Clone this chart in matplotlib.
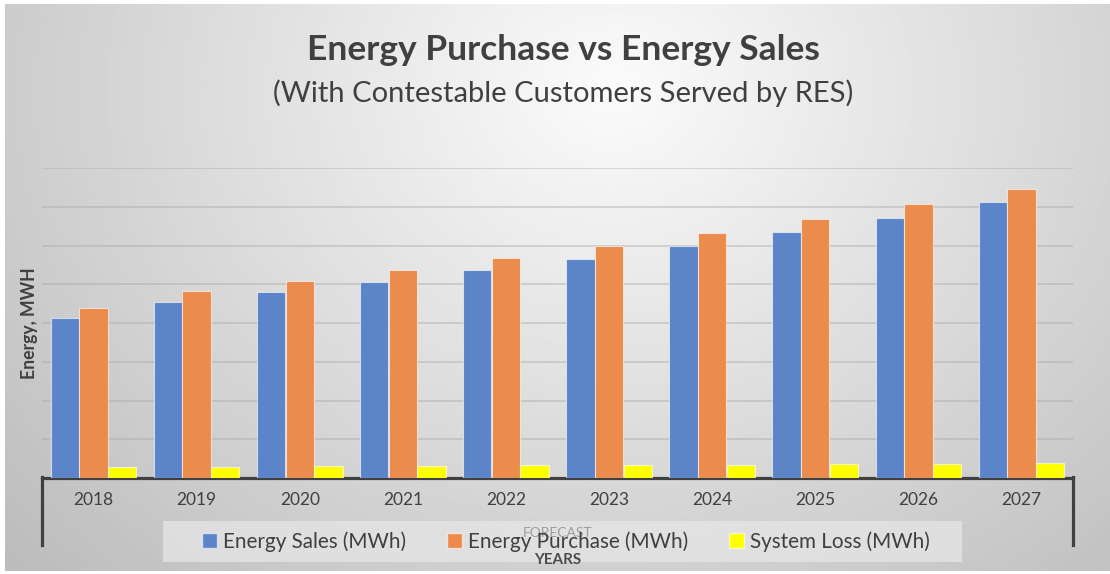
import numpy as np
import matplotlib.pyplot as plt
from matplotlib.patches import Rectangle, Patch
from matplotlib.lines import Line2D

plt.rcParams['font.family'] = ['Lato', 'DejaVu Sans']

# data (MWh; gridline step assumed 100,000)
years = ['2018', '2019', '2020', '2021', '2022', '2023', '2024', '2025', '2026', '2027']
energy_sales = [412900, 455000, 480000, 507400, 536800, 566700, 598700, 635600, 671700, 712300]
energy_purchase = [440300, 483400, 509200, 537500, 567700, 598700, 633000, 668400, 707900, 747400]
system_loss = [28400, 29000, 30000, 31000, 32500, 33500, 34300, 35100, 36900, 37700]

series_labels = ['Energy Sales (MWh)', 'Energy Purchase (MWh)', 'System Loss (MWh)']
series_colors = ['#5b84c9', '#eb8b4c', '#ffff00']

W, H = 1110, 574
TXT = '#404040'


def px(x, y):
    # pixel position -> figure fraction
    return x / W, 1 - y / H


fig = plt.figure(figsize=(W / 100, H / 100), dpi=100)

# background gradient
bg = fig.add_axes([0, 0, 1, 1], zorder=-10)
gx, gy = np.meshgrid(np.linspace(0, 1, 400), np.linspace(0, 1, 220))
d = np.sqrt(((gx - 0.55) / 0.6) ** 2 + ((gy - 0.15) / 1.0) ** 2)
shade = np.clip(0.985 - 0.2 * d, 0, 1)
bg.imshow(shade, cmap='gray', vmin=0, vmax=1, aspect='auto',
          extent=(5 / W, 1, 1 - 571 / H, 1 - 4 / H), interpolation='bilinear')
bg.set_xlim(0, 1)
bg.set_ylim(0, 1)
bg.axis('off')

# main axes
x0, x1 = 42, 1073
ytop, ybase = 168.3, 478
ax = fig.add_axes([x0 / W, 1 - ybase / H, (x1 - x0) / W, (ybase - ytop) / H])
ax.patch.set_alpha(0)

x = np.arange(len(years))
bw = 0.275
off = 0.278
for k, (vals, col) in enumerate(zip([energy_sales, energy_purchase, system_loss], series_colors)):
    ax.bar(x + (k - 1) * off, vals, width=bw, color=col,
           edgecolor=(1, 1, 1, 0.6), linewidth=0.8, zorder=3)

ax.set_xlim(-0.5, len(years) - 0.5)
ax.set_ylim(0, 800000)
ax.set_yticks(np.arange(100000, 800001, 100000))
ax.set_yticklabels([])
ax.yaxis.grid(True, color='#a8a8a8', alpha=0.45, linewidth=1.3)
ax.set_axisbelow(True)
ax.tick_params(axis='y', length=0)
ax.set_xticks(x)
ax.set_xticklabels(years, fontsize=12.5, color=TXT)
ax.tick_params(axis='x', length=0, pad=10)
for s in ['left', 'right', 'top']:
    ax.spines[s].set_visible(False)
ax.spines['bottom'].set_color('#404040')
ax.spines['bottom'].set_linewidth(2.3)

# side brackets below axis
for xs in (x0, x1):
    fig.add_artist(Line2D([xs / W, xs / W], [1 - 476.5 / H, 1 - 545 / H],
                          color='#404040', linewidth=2.3))

# titles
fig.text(*px(563, 50), 'Energy Purchase vs Energy Sales', ha='center', va='center',
         fontsize=25.5, fontweight='bold', color=TXT)
fig.text(*px(563, 93), '(With Contestable Customers Served by RES)', ha='center',
         va='center', fontsize=21, color=TXT)
fig.text(*px(29, 323), 'Energy, MWH', rotation=90, ha='center', va='center',
         fontsize=12.7, fontweight='bold', color=TXT)

# legend box
fig.add_artist(Rectangle(px(163, 562), 799 / W, 41 / H, transform=fig.transFigure,
                         facecolor='#e6e6e6', alpha=0.75, edgecolor='none', zorder=2))

# x-axis title (overlaps the legend as in the original)
fig.text(*px(558, 533), 'FORECAST', ha='center', va='center', fontsize=10,
         color='#9c9c9c', zorder=2.5)
fig.text(*px(558, 560), 'YEARS', ha='center', va='center', fontsize=11,
         fontweight='bold', color='#4c4c4c', zorder=2.5)

handles = [Patch(facecolor=c, edgecolor=(1, 1, 1, 0.6)) for c in series_colors]
leg = fig.legend(handles, series_labels, loc='center', bbox_to_anchor=px(566, 541.5),
                 ncol=3, frameon=False, fontsize=14.9, handlelength=0.7,
                 handleheight=0.7, handletextpad=0.3, columnspacing=2.0,
                 labelcolor=TXT)
leg.set_zorder(3)

fig.savefig('out.png', dpi=100)
